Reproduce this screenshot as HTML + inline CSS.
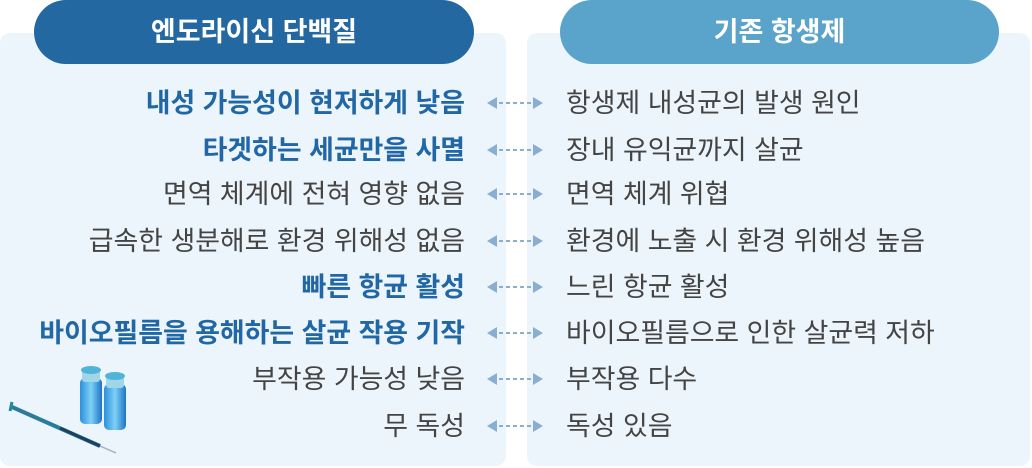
<!DOCTYPE html>
<html><head><meta charset="utf-8"><style>
body{margin:0;width:1032px;height:468px;background:#fff;position:relative;overflow:hidden;font-family:"Liberation Sans","Noto Sans CJK KR",sans-serif}
.panel{position:absolute;top:33px;height:433px;background:#edf5fc;border-radius:10px}
.pill{position:absolute;top:0;height:64px;border-radius:32px;color:#fff;font-size:27px;font-weight:bold;text-align:center;line-height:64px}
.row{position:absolute;font-size:26.9px;color:#444;line-height:34px;white-space:nowrap}
.l{right:567px;text-align:right}
.r{left:566px}
.b{color:#2167a5;font-weight:bold}
</style></head><body>
<div class="panel" style="left:0;width:506px"></div>
<div class="panel" style="left:527px;width:503px"></div>
<div class="pill" style="left:34px;width:440px;background:#2468a2">엔도라이신 단백질</div>
<div class="pill" style="left:560px;width:439px;background:#5aa3cb">기존 항생제</div>

<div class="row l b" style="top:86px">내성 가능성이 현저하게 낮음</div>
<div class="row l b" style="top:133px">타겟하는 세균만을 사멸</div>
<div class="row l" style="top:177px">면역 체계에 전혀 영향 없음</div>
<div class="row l" style="top:224px">급속한 생분해로 환경 위해성 없음</div>
<div class="row l b" style="top:270px">빠른 항균 활성</div>
<div class="row l b" style="top:316px">바이오필름을 용해하는 살균 작용 기작</div>
<div class="row l" style="top:362px">부작용 가능성 낮음</div>
<div class="row l" style="top:409px">무 독성</div>

<div class="row r" style="top:86px">항생제 내성균의 발생 원인</div>
<div class="row r" style="top:133px">장내 유익균까지 살균</div>
<div class="row r" style="top:177px">면역 체계 위협</div>
<div class="row r" style="top:224px">환경에 노출 시 환경 위해성 높음</div>
<div class="row r" style="top:270px">느린 항균 활성</div>
<div class="row r" style="top:316px">바이오필름으로 인한 살균력 저하</div>
<div class="row r" style="top:362px">부작용 다수</div>
<div class="row r" style="top:409px">독성 있음</div>

<svg width="1032" height="468" style="position:absolute;left:0;top:0">
<g fill="#8aaed0" stroke="#8aaed0">
<g id="a"><polygon points="487,103 497,97 497,109" stroke="none"/><polygon points="543,103 533,97 533,109" stroke="none"/><line x1="499" y1="103" x2="531" y2="103" stroke-width="2" stroke-dasharray="4,3"/></g>
<use href="#a" y="47"/><use href="#a" y="91"/><use href="#a" y="138"/><use href="#a" y="184"/><use href="#a" y="230"/><use href="#a" y="276"/><use href="#a" y="323"/>
</g>
<defs><linearGradient id="v" x1="0" x2="1"><stop offset="0" stop-color="#2a8fdc"/><stop offset=".5" stop-color="#7fd0f5"/><stop offset="1" stop-color="#1c73c8"/></linearGradient></defs>
<rect x="80" y="378" width="22" height="46" rx="5" fill="url(#v)"/>
<rect x="82" y="370" width="18" height="12" rx="3" fill="#9fd6e8"/>
<ellipse cx="91" cy="370" rx="10" ry="4" fill="#4fb5d8"/>
<rect x="104" y="384" width="22" height="46" rx="5" fill="url(#v)"/>
<rect x="106" y="376" width="18" height="12" rx="3" fill="#9fd6e8"/>
<ellipse cx="115" cy="376" rx="10" ry="4" fill="#4fb5d8"/>
<line x1="12" y1="407" x2="100" y2="446" stroke="#2a7d9a" stroke-width="4"/>
<line x1="60" y1="428" x2="100" y2="446" stroke="#1e3f60" stroke-width="3"/>
<line x1="100" y1="446" x2="116" y2="453" stroke="#aab" stroke-width="1.5"/>
<line x1="12" y1="402" x2="10" y2="411" stroke="#1e8a9a" stroke-width="3"/>
</svg>
</body></html>
